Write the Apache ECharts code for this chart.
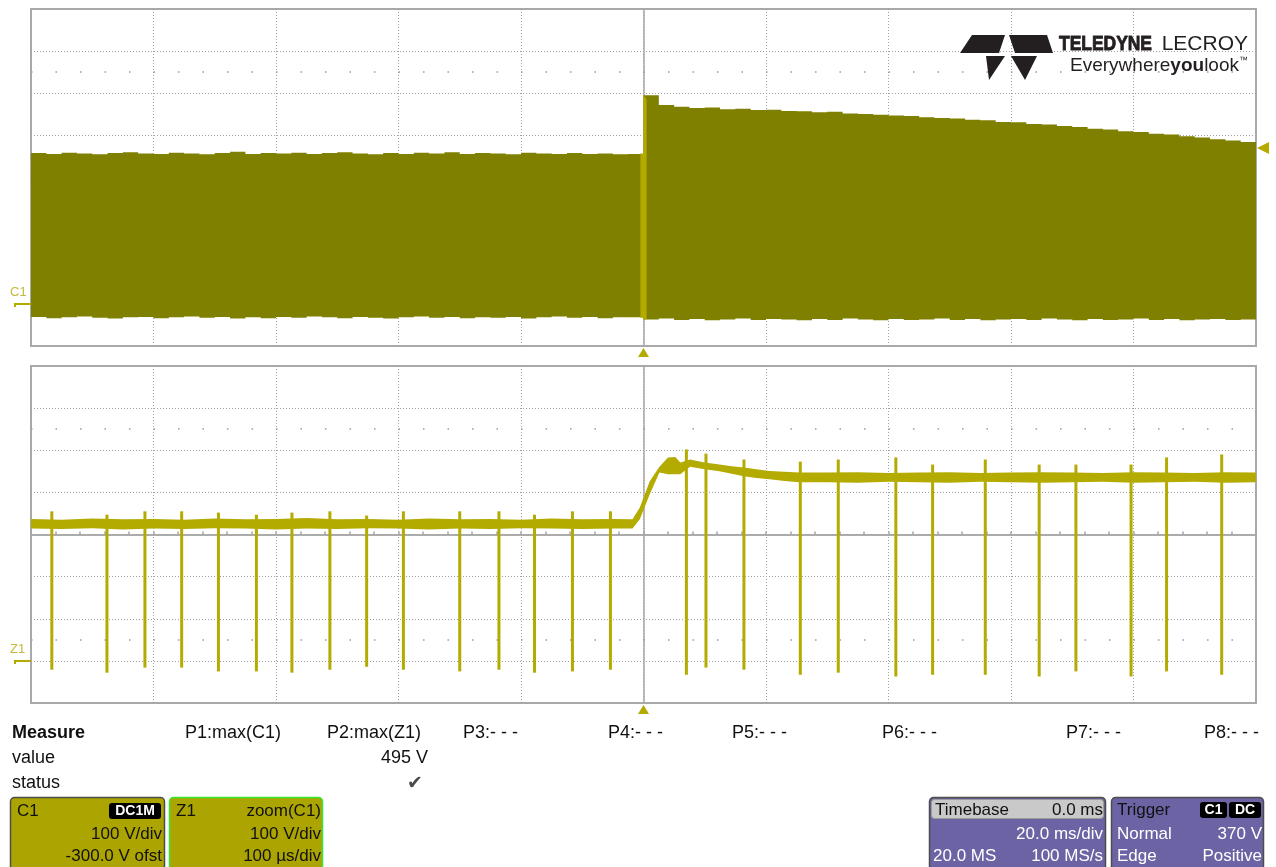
<!DOCTYPE html>
<html>
<head>
<meta charset="utf-8">
<title>C1 / Z1</title>
<script src="https://cdn.jsdelivr.net/npm/echarts@6/dist/echarts.min.js"></script>
<style>
  html, body { margin: 0; padding: 0; background: #fff; }
  #main { width: 1276px; height: 867px; }
</style>
</head>
<body>
<div id="main"></div>
<script>
// C1 : 20 ms/div, envelope of the switching waveform (time in ms, volts)
const c1Time = [-100, -97.5, -95, -92.5, -90, -87.5, -85, -82.5, -80, -77.5, -75, -72.5, -70, -67.5, -65, -62.5,
  -60, -57.5, -55, -52.5, -50, -47.5, -45, -42.5, -40, -37.5, -35, -32.5, -30, -27.5, -25, -22.5, -20, -17.5,
  -15, -12.5, -10, -7.5, -5, -2.5, 0, 0, 2.5, 5, 7.5, 10, 12.5, 15, 17.5, 20, 22.5, 25, 27.5, 30, 32.5, 35,
  37.5, 40, 42.5, 45, 47.5, 50, 52.5, 55, 57.5, 60, 62.5, 65, 67.5, 70, 72.5, 75, 77.5, 80, 82.5, 85, 87.5,
  90, 92.5, 95, 97.5, 100]
const c1Top = [358, 356, 359, 357, 355, 358, 360, 357, 356, 359, 357, 355, 358, 361, 356, 358, 357, 359, 356,
  358, 360, 357, 355, 358, 356, 359, 357, 360, 356, 358, 357, 355, 359, 357, 356, 358, 356, 357, 355, 356,
  356, 495, 472, 468, 465, 466, 462, 463, 460, 461, 458, 457, 455, 456, 452, 451, 449, 447, 446, 443, 441,
  440, 437, 436, 432, 431, 427, 426, 422, 420, 416, 414, 410, 408, 404, 402, 398, 395, 391, 388, 384, 379]
const c1Bottom = [-33, -31, -34, -32, -30, -33, -35, -32, -31, -34, -32, -30, -33, -31, -35, -32, -34, -31,
  -33, -30, -32, -34, -31, -33, -35, -32, -30, -33, -31, -34, -32, -33, -31, -35, -32, -30, -33, -31, -34,
  -32, -32, -36, -37, -35, -38, -36, -39, -37, -35, -38, -36, -37, -39, -36, -38, -35, -37, -39, -36, -38,
  -37, -35, -38, -36, -39, -37, -36, -38, -35, -37, -39, -36, -38, -37, -35, -38, -36, -39, -37, -36, -38, -37]

// part of C1 shown in the zoom (highlighted in the zoom colour)
const hlTime = [-0.5, 0, 0, 0.5]
const hlTop = [357, 357, 495, 486]
const hlBottom = [-33, -33, -37, -37]

// Z1 : zoom of C1, 100 us/div (time in us, volts)
const z1Time = [-500, -475, -450, -425, -400, -375, -350, -325, -300, -275, -250, -225, -200, -175, -150,
  -125, -100, -75, -50, -25, -9, -3, 5, 13, 20, 26, 30, 38, 50, 62, 72, 82, 92, 103, 115, 127,
  150, 175, 200, 225, 250, 275, 300, 325, 350, 375, 400, 425, 450, 475, 500]
const z1Upper = [337, 335, 338, 336, 337, 335, 338, 336, 337, 339, 336, 337, 335, 338, 336, 337, 335, 338,
  336, 337, 336, 364, 426, 461, 483, 484, 471, 478, 471, 466, 462, 459, 455, 451, 449, 447,
  447, 448, 446, 447, 448, 446, 447, 448, 447, 446, 448, 447, 446, 448, 447]
const z1Lower = [314, 313, 315, 312, 314, 313, 315, 314, 312, 314, 313, 315, 314, 312, 314, 313, 315, 314,
  313, 314, 314, 336, 395, 447, 443, 443, 443, 461, 455, 450, 444, 438, 434, 431, 427, 424,
  424, 423, 425, 424, 423, 425, 424, 423, 424, 425, 423, 424, 425, 423, 424]

// switching edges seen in the zoom: time (us), lowest and highest value (V)
const spikeTime = [-483, -438, -407, -377, -347, -316, -287, -256, -226, -196, -150, -118, -89, -58, -27,
  35, 51, 82, 128, 159, 206, 236, 279, 323, 353, 398, 427, 472]
const spikeLow = [-21, -28, -16, -16, -25, -25, -28, -21, -14, -21, -25, -21, -28, -25, -21,
  -33, -16, -21, -33, -28, -37, -33, -33, -37, -25, -37, -25, -33]
const spikeHigh = [355, 347, 355, 355, 352, 347, 352, 355, 345, 355, 355, 355, 347, 355, 355,
  502, 492, 478, 473, 478, 483, 466, 478, 466, 466, 466, 483, 490]

const trigTime = 0
const trigLevel = 370

// measure table and info boxes
const measureCols = ['P1:max(C1)', 'P2:max(Z1)', 'P3:- - -', 'P4:- - -', 'P5:- - -', 'P6:- - -', 'P7:- - -', 'P8:- - -']
const measureValue = '495 V'

const C1_COLOR = '#808000'
const Z1_COLOR = '#b3ab00'
const GRID_LINE = '#a0a0a0'
const FONT = '"Liberation Sans", Arial, sans-serif'

const GL = 31
const GW = 1225
const GH = 337
const T1 = 9
const T2 = 366

function timeAxis (grid, min, max, step, divAxis, inside) {
  return {
    type: 'value',
    gridIndex: grid,
    min: min,
    max: max,
    interval: step,
    axisLabel: { show: false },
    axisLine: { show: true, onZero: true, onZeroAxisIndex: divAxis, lineStyle: { color: '#a6a6a6', width: 1.5 } },
    axisTick: { show: true, inside: inside, length: 3, lineStyle: { color: '#a6a6a6', width: 1.5 } },
    minorTick: { show: true, splitNumber: 5, length: 3, lineStyle: { color: '#a6a6a6', width: 1.5 } },
    splitLine: {
      show: inside,
      showMinLine: false,
      showMaxLine: false,
      lineStyle: { color: GRID_LINE, width: 1, type: [1, 2] }
    }
  }
}

function voltAxis (grid) {
  return {
    type: 'value',
    gridIndex: grid,
    min: -100,
    max: 700,
    interval: 100,
    axisLabel: { show: false },
    axisLine: { show: true, onZero: true, onZeroAxisIndex: grid, lineStyle: { color: '#a6a6a6', width: 1.5 } },
    axisTick: { show: false },
    splitLine: {
      show: true,
      showMinLine: false,
      showMaxLine: false,
      lineStyle: { color: GRID_LINE, width: 1, type: [1, 2] }
    }
  }
}

// axis in divisions, only used to put the time axis on the screen centre
function divAxis (grid) {
  return { type: 'value', gridIndex: grid, min: -4, max: 4, show: false }
}

// filled envelope between an upper and a lower trace, drawn as one polygon
function band (name, xi, yi, times, top, bottom, color, z, stepped) {
  return {
    name: name,
    type: 'custom',
    xAxisIndex: xi,
    yAxisIndex: yi,
    silent: true,
    z: z,
    data: times.map((t, i) => [t, top[i], bottom[i]]),
    encode: { x: 0, y: [1, 2] },
    renderItem: function (params, api) {
      if (params.dataIndex !== 0) return null
      const n = times.length
      const pts = []
      for (let i = 0; i < n; i++) {
        pts.push(api.coord([times[i], top[i]]))
        if (stepped && i < n - 1) pts.push(api.coord([times[i + 1], top[i]]))
      }
      for (let i = n - 1; i >= 0; i--) {
        pts.push(api.coord([times[i], bottom[i]]))
        if (stepped && i > 0) pts.push(api.coord([times[i - 1], bottom[i]]))
      }
      return { type: 'polygon', shape: { points: pts }, style: { fill: color } }
    }
  }
}

const dotRow = {
  silent: true,
  symbol: 'none',
  label: { show: false },
  lineStyle: { color: '#9a9a9a', width: 1.5, type: [1.5, 23.0] }
}

const chart = echarts.init(document.getElementById('main'))

const option = {
  animation: false,
  backgroundColor: '#ffffff',
  grid: [
    { left: GL, top: T1, width: GW, height: GH, show: true, borderColor: '#a9a9a9', borderWidth: 2, backgroundColor: '#fff' },
    { left: GL, top: T2, width: GW, height: GH, show: true, borderColor: '#a9a9a9', borderWidth: 2, backgroundColor: '#fff' }
  ],
  xAxis: [
    timeAxis(0, -100, 100, 20, 2, true),
    timeAxis(1, -500, 500, 100, 3, true),
    timeAxis(0, -100, 100, 20, 2, false),
    timeAxis(1, -500, 500, 100, 3, false)
  ],
  yAxis: [voltAxis(0), voltAxis(1), divAxis(0), divAxis(1)],
  series: [
    {
      name: 'dots-c1',
      type: 'line',
      xAxisIndex: 0,
      yAxisIndex: 0,
      data: [],
      z: 1,
      markLine: Object.assign({ data: [{ yAxis: 550 }] }, dotRow)
    },
    {
      name: 'dots-z1',
      type: 'line',
      xAxisIndex: 1,
      yAxisIndex: 1,
      data: [],
      z: 1,
      markLine: Object.assign({ data: [{ yAxis: 550 }, { yAxis: 50 }] }, dotRow)
    },
    band('C1', 0, 0, c1Time, c1Top, c1Bottom, C1_COLOR, 2, true),
    band('C1zoom', 0, 0, hlTime, hlTop, hlBottom, Z1_COLOR, 3, false),
    band('Z1', 1, 1, z1Time, z1Upper, z1Lower, Z1_COLOR, 2, false),
    {
      name: 'Z1-edges',
      type: 'custom',
      xAxisIndex: 1,
      yAxisIndex: 1,
      silent: true,
      z: 3,
      data: spikeTime.map((t, i) => [t, spikeLow[i], spikeHigh[i]]),
      encode: { x: 0, y: [1, 2] },
      renderItem: function (params, api) {
        const hi = api.coord([api.value(0), api.value(2)])
        const lo = api.coord([api.value(0), api.value(1)])
        return {
          type: 'rect',
          shape: { x: hi[0] - 1.5, y: hi[1], width: 3, height: lo[1] - hi[1] },
          style: { fill: Z1_COLOR }
        }
      }
    }
  ]
}

chart.setOption(option)

function txt (x, y, text, opts) {
  return {
    type: 'text',
    silent: true,
    z: 10,
    style: Object.assign({
      x: x, y: y, text: text, font: '18px ' + FONT, fill: '#111',
      align: 'left', verticalAlign: 'middle', textAlign: 'left', textVerticalAlign: 'middle'
    }, opts || {})
  }
}
function right (x, y, text, opts) {
  return txt(x, y, text, Object.assign({ align: 'right', textAlign: 'right' }, opts || {}))
}
function badge (x, y, w, text) {
  return [
    { type: 'rect', silent: true, z: 10, shape: { x: x, y: y, width: w, height: 16, r: 3 }, style: { fill: '#000' } },
    txt(x + w / 2, y + 8.5, text, { font: 'bold 14px ' + FONT, fill: '#fff', align: 'center', textAlign: 'center' })
  ]
}
function tri (points, color) {
  return { type: 'polygon', silent: true, z: 10, shape: { points: points }, style: { fill: color } }
}

const tx = chart.convertToPixel({ xAxisIndex: 0 }, trigTime)
const tx1 = chart.convertToPixel({ xAxisIndex: 1 }, trigTime)
const ty = chart.convertToPixel({ yAxisIndex: 0 }, trigLevel)
const g0 = chart.convertToPixel({ yAxisIndex: 0 }, 0)
const g1 = chart.convertToPixel({ yAxisIndex: 1 }, 0)
const gridRight = GL + GW
const measureX = [185, 327, 463, 608, 732, 882, 1066, 1204]

// heavy condensed word mark
const logoWord = Object.assign(txt(0, 0, 'TELEDYNE', {
  font: 'bold 21px ' + FONT, fill: '#231f20', stroke: '#231f20', lineWidth: 0.9
}), { x: 1059, y: 44, scaleX: 0.83, scaleY: 1 })

const graphics = [
  // trigger markers
  tri([[tx, T1 + GH + 2], [tx - 5.5, T1 + GH + 11], [tx + 5.5, T1 + GH + 11]], Z1_COLOR),
  tri([[tx1, T2 + GH + 2], [tx1 - 5.5, T2 + GH + 11], [tx1 + 5.5, T2 + GH + 11]], Z1_COLOR),
  tri([[gridRight + 1, ty], [gridRight + 13, ty - 6], [gridRight + 13, ty + 6]], Z1_COLOR),
  // ground markers
  txt(10, g0 - 11, 'C1', { font: '13px ' + FONT, fill: '#c4b93c' }),
  { type: 'polyline', silent: true, z: 10, shape: { points: [[15, g0 + 3], [15, g0], [GL, g0]] }, style: { stroke: Z1_COLOR, lineWidth: 2, fill: null } },
  txt(10, g1 - 11, 'Z1', { font: '13px ' + FONT, fill: '#c4b93c' }),
  { type: 'polyline', silent: true, z: 10, shape: { points: [[15, g1 + 3], [15, g1], [GL, g1]] }, style: { stroke: Z1_COLOR, lineWidth: 2, fill: null } },

  // logo
  tri([[960, 53], [972, 35], [1005, 35], [999, 53]], '#231f20'),
  tri([[1009, 35], [1047, 35], [1053, 53], [1015, 53]], '#231f20'),
  tri([[986, 56], [1005, 56], [989, 80]], '#231f20'),
  tri([[1011, 56], [1037, 56], [1025, 80]], '#231f20'),
  logoWord,
  right(1248, 44, 'LECROY', { font: '21px ' + FONT, fill: '#231f20' }),
  right(1248, 66, '{r|Everywhere}{b|you}{r|look}{t|™}', {
    font: '19px ' + FONT,
    fill: '#231f20',
    rich: {
      r: { font: '19px ' + FONT, fill: '#231f20' },
      b: { font: 'bold 19px ' + FONT, fill: '#231f20' },
      t: { font: '9px ' + FONT, fill: '#231f20', verticalAlign: 'top' }
    }
  }),

  // measure table
  txt(12, 733, 'Measure', { font: 'bold 18px ' + FONT }),
  txt(12, 758, 'value'),
  txt(12, 783, 'status'),
  ...measureCols.map((label, i) => txt(measureX[i], 733, label)),
  right(428, 758, measureValue),
  txt(407, 784, '✔', { font: '19px "DejaVu Sans", sans-serif', fill: '#4a4a4a' }),

  // C1 box
  { type: 'rect', silent: true, z: 9, shape: { x: 10.5, y: 797.5, width: 154, height: 80, r: 4 }, style: { fill: '#aca400', stroke: '#4d4d4d', lineWidth: 1.5 } },
  txt(17, 811, 'C1', { font: '17px ' + FONT }),
  ...badge(109, 803, 52, 'DC1M'),
  right(162, 834, '100 V/div', { font: '17px ' + FONT }),
  right(162, 856, '-300.0 V ofst', { font: '17px ' + FONT }),

  // Z1 box
  { type: 'rect', silent: true, z: 9, shape: { x: 169.5, y: 797.5, width: 153, height: 80, r: 4 }, style: { fill: '#aca400', stroke: '#33e833', lineWidth: 1.5 } },
  txt(176, 811, 'Z1', { font: '17px ' + FONT }),
  right(321, 811, 'zoom(C1)', { font: '17px ' + FONT }),
  right(321, 834, '100 V/div', { font: '17px ' + FONT }),
  right(321, 856, '100 µs/div', { font: '17px ' + FONT }),

  // timebase box
  { type: 'rect', silent: true, z: 9, shape: { x: 929.5, y: 797.5, width: 176, height: 80, r: 4 }, style: { fill: '#6b63a3', stroke: '#4d4d4d', lineWidth: 1.5 } },
  { type: 'rect', silent: true, z: 9, shape: { x: 931.5, y: 799.5, width: 172, height: 19, r: 3 }, style: { fill: '#c9c9c9', stroke: '#9a9a9a', lineWidth: 1 } },
  txt(935, 810, 'Timebase', { font: '17px ' + FONT }),
  right(1103, 810, '0.0 ms', { font: '17px ' + FONT }),
  right(1103, 834, '20.0 ms/div', { font: '17px ' + FONT, fill: '#fff' }),
  txt(933, 856, '20.0 MS', { font: '17px ' + FONT, fill: '#fff' }),
  right(1103, 856, '100 MS/s', { font: '17px ' + FONT, fill: '#fff' }),

  // trigger box
  { type: 'rect', silent: true, z: 9, shape: { x: 1111.5, y: 797.5, width: 152, height: 80, r: 4 }, style: { fill: '#6b63a3', stroke: '#4d4d4d', lineWidth: 1.5 } },
  txt(1117, 810, 'Trigger', { font: '17px ' + FONT, fill: '#111' }),
  ...badge(1200, 802, 27, 'C1'),
  ...badge(1229, 802, 32, 'DC'),
  txt(1117, 834, 'Normal', { font: '17px ' + FONT, fill: '#fff' }),
  right(1262, 834, '370 V', { font: '17px ' + FONT, fill: '#fff' }),
  txt(1117, 856, 'Edge', { font: '17px ' + FONT, fill: '#fff' }),
  right(1262, 856, 'Positive', { font: '17px ' + FONT, fill: '#fff' })
]

chart.setOption({ graphic: graphics })
</script>
</body>
</html>
